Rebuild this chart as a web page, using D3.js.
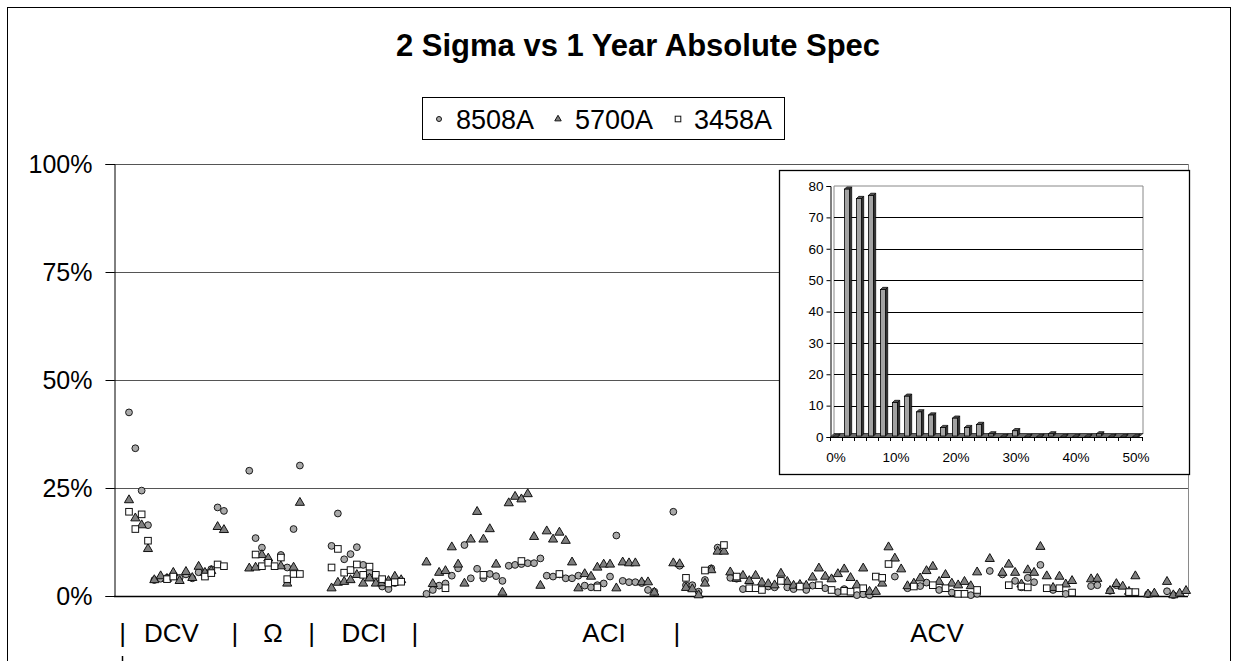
<!DOCTYPE html>
<html><head><meta charset="utf-8">
<script src="https://cdn.jsdelivr.net/npm/d3@7"></script>
<style>body{margin:0;background:#fff}svg{display:block}text{font-family:"Liberation Sans",Arial,sans-serif}</style>
</head><body>
<svg id="c" width="1238" height="661"></svg>
<script>
// ---- data ----
const seriesNames = ["8508A", "5700A", "3458A"];
const s8508A = [
42.5,34.2,24.4,16.4,3.7,4.0,4.2,4.6,4.2,5.0,
4.1,5.5,5.4,6.2,20.5,19.7,null,null,null,29.0,
13.4,11.2,null,null,9.5,6.6,15.5,30.2,null,null,
null,null,11.6,19.1,8.5,9.7,11.3,7.2,5.5,4.0,
2.2,1.6,3.0,3.5,null,null,null,0.5,1.4,2.4,
2.9,4.7,6.4,11.8,4.1,6.3,4.1,5.1,4.6,3.5,
7.0,7.2,7.4,7.6,7.6,8.7,4.7,4.5,5.0,4.1,
4.1,4.7,2.4,2.0,2.5,2.9,4.5,14.0,3.5,3.2,
3.2,3.0,1.4,1.0,null,null,19.5,7.0,2.5,2.5,
1.0,3.7,6.4,11.2,null,4.2,4.0,1.6,null,null,
null,2.2,2.0,null,2.0,1.6,null,1.4,2.4,null,
1.8,null,0.9,1.6,null,0.2,0.4,0.2,null,null,
null,4.5,null,1.8,null,2.3,3.1,null,1.4,null,
0.8,null,null,0.2,0.5,null,5.8,null,5.0,null,
3.5,2.0,4.2,3.2,7.2,null,1.4,null,0.5,null,
null,null,2.3,2.5,null,1.2,2.5,null,null,null,
null,0.4,null,null,1.1,0.2,null,null];
const s5700A = [
22.2,18.0,16.4,10.9,3.7,4.6,4.0,5.4,3.5,5.6,
4.2,6.8,5.4,5.8,16.0,15.3,null,null,null,6.4,
6.6,9.5,8.7,null,6.9,2.9,6.6,21.6,null,null,
null,null,1.8,3.1,3.3,3.7,4.9,2.9,4.1,2.9,
3.0,3.5,4.5,3.7,null,null,null,7.8,2.8,5.4,
5.8,11.3,7.3,2.9,13.1,19.5,13.1,15.5,7.3,0.8,
21.5,23.0,22.4,23.6,13.7,2.4,15.0,13.1,14.7,12.8,
7.8,1.8,5.1,4.5,6.6,7.3,7.3,1.8,7.8,7.6,
7.6,3.2,3.2,0.8,null,null,7.6,7.4,1.9,1.6,
0.2,2.9,6.0,10.3,10.3,5.5,4.0,4.7,3.5,4.7,
3.1,2.8,2.5,5.2,3.3,2.4,2.6,2.4,4.3,6.4,
4.5,3.9,5.1,6.2,4.2,2.5,6.4,1.0,1.0,2.9,
11.3,8.7,6.2,2.3,2.9,4.1,5.8,6.8,3.3,4.9,
2.9,2.5,3.3,2.3,5.5,null,8.6,null,5.4,7.3,
5.4,2.7,6.0,5.4,11.4,4.6,1.9,4.5,2.7,3.5,
null,null,3.9,4.0,null,1.2,2.8,2.2,1.0,4.6,
null,0.4,0.6,null,3.3,0.2,0.6,1.2];
const s3458A = [
19.5,15.5,18.9,12.8,null,null,3.9,4.5,null,null,
null,null,4.5,5.3,7.3,6.9,null,null,null,null,
9.6,6.9,7.7,6.9,8.9,3.9,5.1,5.1,null,null,
null,null,6.6,10.9,5.4,6.0,7.3,4.9,6.8,4.9,
3.9,2.9,3.2,3.3,null,null,null,null,null,null,
1.8,null,null,null,null,null,4.9,null,null,null,
null,null,8.1,null,null,null,null,null,5.1,null,
null,null,null,null,2.0,null,null,null,null,null,
null,null,null,null,null,null,null,null,4.2,null,
null,5.9,null,null,11.8,null,4.5,null,1.8,1.8,
1.4,null,null,3.5,null,null,2.2,null,null,2.5,
null,1.4,null,1.2,1.0,null,1.8,null,4.5,4.2,
7.4,null,null,null,2.2,null,null,2.5,null,1.8,
null,0.5,0.5,null,1.4,null,null,null,null,2.5,
null,2.2,2.0,null,null,1.8,null,1.8,null,0.8,
null,null,null,null,null,null,null,null,0.9,0.9,
null,null,null,null,null,null,null,null];
const yTicks = [0, 25, 50, 75, 100];
const groupLabels = ["|", "DCV", "|", "Ω", "|", "DCI", "|", "ACI", "|", "ACV"];
// inset histogram
const histBins = d3.range(0, 51, 2); // 0%..50%
const histCounts = [0,79,76,77,47,11,13,8,7,3,6,3,4,1,0,2,0,0,1,0,0,0,1,0,0,0];
const histYTicks = [0,10,20,30,40,50,60,70,80];
const histXLabels = ["0%","10%","20%","30%","40%","50%"];

// ---- drawing ----
const svg = d3.select("#c");
const N = s8508A.length;
// outer frame
svg.append("rect").attr("x",7.5).attr("y",7.5).attr("width",1223).attr("height",700)
  .attr("fill","none").attr("stroke","#000").attr("stroke-width",1);

const L = 114, R = 1188, T = 164, B = 596;
const x = d3.scalePoint().domain(d3.range(N)).range([129, 1186]);
const y = d3.scaleLinear().domain([0, 100]).range([B, T]);

// gridlines
svg.append("g").selectAll("line").data(yTicks.filter(d=>d>0)).join("line")
  .attr("x1",L).attr("x2",R).attr("y1",d=>Math.round(y(d))+0.5).attr("y2",d=>Math.round(y(d))+0.5)
  .attr("stroke","#555").attr("stroke-width",1.2);
// right plot border
svg.append("line").attr("x1",R+0.5).attr("x2",R+0.5).attr("y1",T).attr("y2",B)
  .attr("stroke","#8a8a8a").attr("stroke-width",1);

// y axis
const yAxis = d3.axisLeft(y).tickValues(yTicks).tickFormat(d=>d+"%").tickSize(9).tickPadding(13);
const gy = svg.append("g").attr("transform",`translate(${L+0.5},0)`).call(yAxis);
gy.select(".domain").attr("stroke","#000");
gy.selectAll(".tick line").attr("stroke","#000");
gy.selectAll(".tick text").attr("font-size",25).attr("fill","#000").attr("font-family","Liberation Sans, Arial, sans-serif");
// x baseline
svg.append("line").attr("x1",L).attr("x2",R).attr("y1",B+0.5).attr("y2",B+0.5).attr("stroke","#000").attr("stroke-width",1.3);

// markers
const pts = (arr)=>arr.map((v,i)=>({i,v})).filter(d=>d.v!==null);
svg.append("g").selectAll("circle").data(pts(s8508A)).join("circle")
  .attr("cx",d=>x(d.i)).attr("cy",d=>y(d.v)).attr("r",3.4)
  .attr("fill","#a9a9a9").attr("stroke","#1a1a1a").attr("stroke-width",1);
const tri = d3.symbol().type(d3.symbolTriangle).size(36);
svg.append("g").selectAll("path").data(pts(s5700A)).join("path")
  .attr("d",tri).attr("transform",d=>`translate(${x(d.i)},${y(d.v)})`)
  .attr("fill","#7f7f7f").attr("stroke","#111").attr("stroke-width",1);
svg.append("g").selectAll("rect").data(pts(s3458A)).join("rect")
  .attr("x",d=>x(d.i)-3.3).attr("y",d=>y(d.v)-3.3).attr("width",6.6).attr("height",6.6)
  .attr("fill","#fff").attr("stroke","#111").attr("stroke-width",1);

// title
svg.append("text").attr("x",638).attr("y",56).attr("text-anchor","middle")
  .attr("font-size",31).attr("font-weight","bold").text("2 Sigma vs 1 Year Absolute Spec");

// legend
svg.append("rect").attr("x",422.5).attr("y",97.5).attr("width",362).attr("height",42)
  .attr("fill","#fff").attr("stroke","#000");
const lg = svg.append("g");
const lx = [439, 558, 678], tx = [456, 575, 694];
lg.append("circle").attr("cx",lx[0]).attr("cy",119).attr("r",2.5).attr("fill","#a9a9a9").attr("stroke","#111");
lg.append("path").attr("d",d3.symbol().type(d3.symbolTriangle).size(18)).attr("transform",`translate(${lx[1]},119)`).attr("fill","#7f7f7f").attr("stroke","#111");
lg.append("rect").attr("x",lx[2]-2.8).attr("y",116.2).attr("width",5.6).attr("height",5.6).attr("fill","#fff").attr("stroke","#111");
seriesNames.forEach((n,k)=>lg.append("text").attr("x",tx[k]).attr("y",128.5).attr("font-size",27).text(n));

// group labels
const glx = [122.7, 171.5, 235, 273, 311.7, 364, 415, 604, 677, 937];
svg.append("g").selectAll("text").data(groupLabels).join("text")
  .attr("x",(d,k)=>glx[k]).attr("y",642).attr("text-anchor","middle").attr("font-size",26).text(d=>d);
svg.append("line").attr("x1",122.5).attr("x2",122.5).attr("y1",656).attr("y2",662).attr("stroke","#000").attr("stroke-width",1.5);

// ---- inset ----
const ins = svg.append("g");
ins.append("rect").attr("x",779.5).attr("y",170.5).attr("width",410).attr("height",304)
  .attr("fill","#fff").attr("stroke","#000").attr("stroke-width",1.3);
const hx = d3.scaleBand().domain(histBins).range([830, 1142]).padding(0);
const hy = d3.scaleLinear().domain([0, 80]).range([437, 186]);
// back wall frame
ins.append("path").attr("d",`M834,437 L834,${hy(80)} L1143,${hy(80)} L1143,434`).attr("fill","none").attr("stroke","#888").attr("stroke-width",1);
// gridlines
ins.append("g").selectAll("line").data(histYTicks.filter(d=>d>0&&d<80)).join("line")
  .attr("x1",834).attr("x2",1143).attr("y1",d=>Math.round(hy(d))+0.5).attr("y2",d=>Math.round(hy(d))+0.5)
  .attr("stroke","#000").attr("stroke-width",1);
// floor
ins.append("path").attr("d",`M830,437.5 L1138,437.5 L1143,433.5 L834,433.5 Z`).attr("fill","#6a6a6a").attr("stroke","#222").attr("stroke-width",0.8);
// y axis
const hyAxis = d3.axisLeft(hy).tickValues(histYTicks).tickSize(4).tickPadding(3);
const ghy = ins.append("g").attr("transform","translate(830.5,0)").call(hyAxis);
ghy.select(".domain").attr("stroke","#000");
ghy.selectAll(".tick text").attr("font-size",13.5).attr("fill","#000").attr("font-family","Liberation Sans, Arial, sans-serif");
// x ticks
ins.append("g").selectAll("line").data(d3.range(histBins.length+1)).join("line")
  .attr("x1",k=>830+k*hx.bandwidth()+0.5).attr("x2",k=>830+k*hx.bandwidth()+0.5)
  .attr("y1",437).attr("y2",441).attr("stroke","#000");
ins.append("line").attr("x1",830).attr("x2",1142).attr("y1",437.5).attr("y2",437.5).attr("stroke","#000");
// bars
const bw = 5, dx = 2.2, dyy = 2.2;
const bars = ins.append("g").selectAll("g").data(histBins.map((b,k)=>({b,c:histCounts[k]}))).join("g");
bars.each(function(d){
  const g = d3.select(this);
  const cx = hx(d.b) + hx.bandwidth()/2 - 1;
  const x0 = cx - bw/2, x1 = cx + bw/2, yt = hy(d.c), yb = 436;
  g.append("path").attr("d",`M${x1},${yt} L${x1+dx},${yt-dyy} L${x1+dx},${yb-dyy} L${x1},${yb} Z`).attr("fill","#333").attr("stroke","#000").attr("stroke-width",0.7);
  g.append("path").attr("d",`M${x0},${yt} L${x0+dx},${yt-dyy} L${x1+dx},${yt-dyy} L${x1},${yt} Z`).attr("fill","#555").attr("stroke","#000").attr("stroke-width",0.7);
  if (d.c > 0) g.append("rect").attr("x",x0).attr("y",yt).attr("width",bw).attr("height",yb-yt).attr("fill","#a3a3a3").attr("stroke","#000").attr("stroke-width",0.8);
});
// x labels
ins.append("g").selectAll("text").data(histXLabels).join("text")
  .attr("x",(d,k)=>hx(histBins[k*5])+hx.bandwidth()/2).attr("y",462).attr("text-anchor","middle")
  .attr("font-size",13.5).text(d=>d);
</script>
</body></html>
